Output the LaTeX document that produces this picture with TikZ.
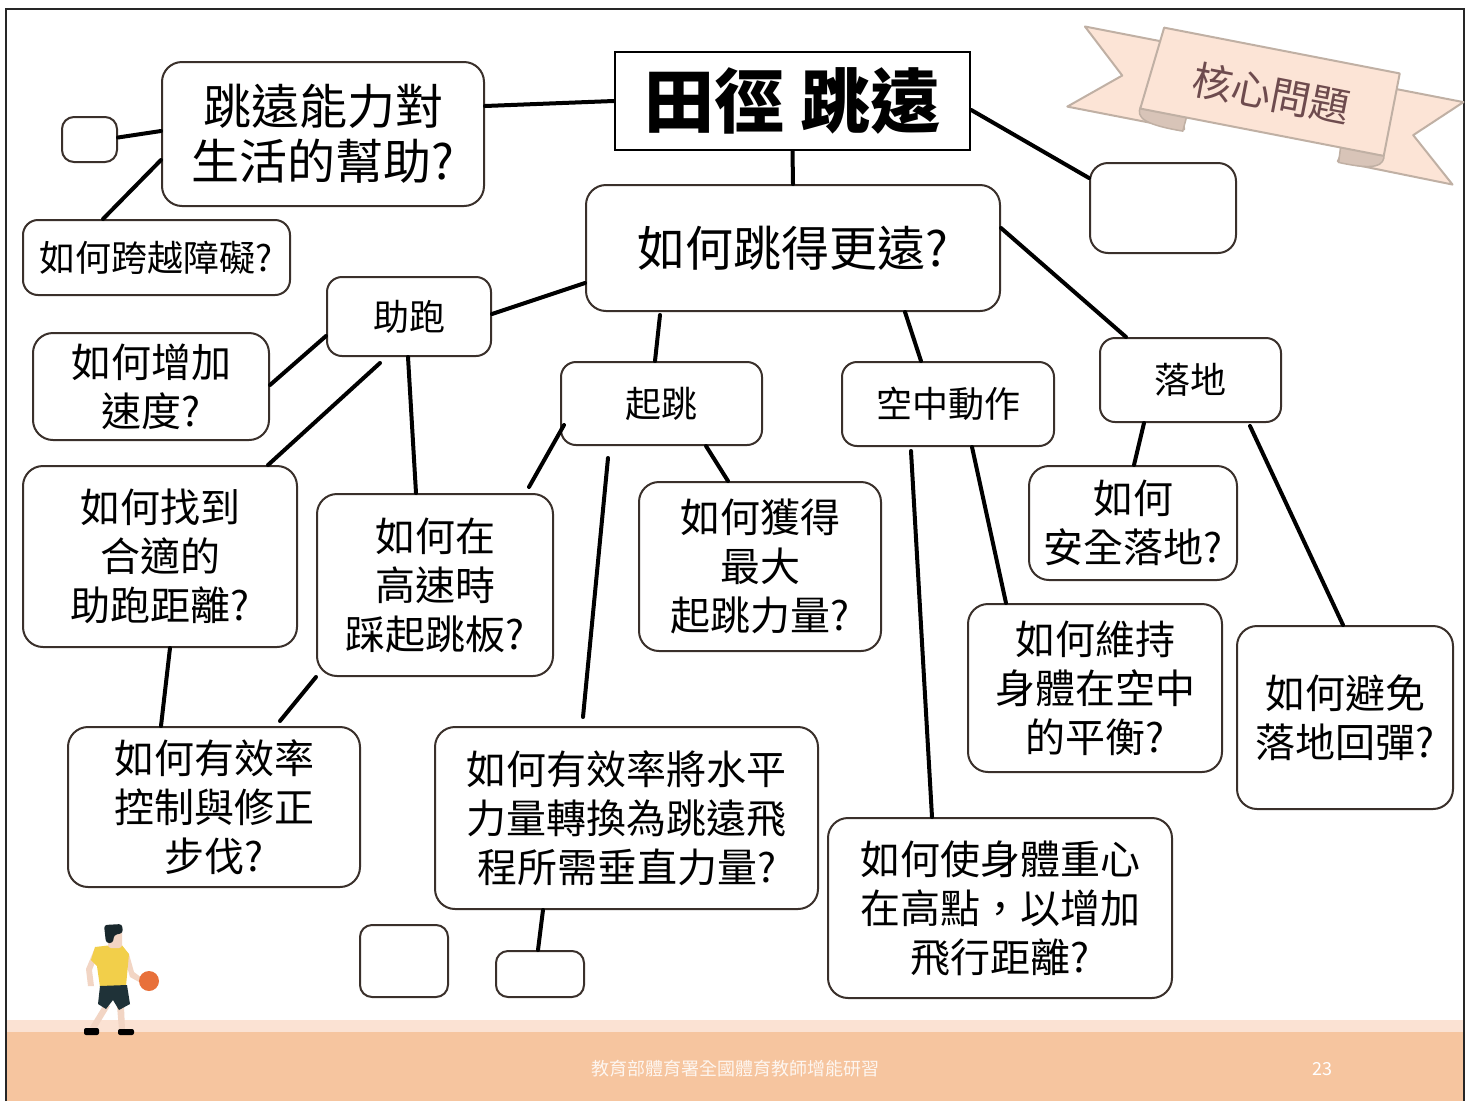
\documentclass[tikz,border=0pt]{standalone}
\usepackage{fontspec}
\setmainfont{Noto Sans CJK TC}
\definecolor{boxline}{HTML}{3A302B}
\definecolor{ribbonfill}{HTML}{FCE4D6}
\definecolor{ribbondraw}{HTML}{C0B0A4}
\definecolor{ribbonfold}{HTML}{D8C4B8}
\definecolor{ribbontext}{HTML}{6E4B4E}
\definecolor{footlight}{HTML}{FBE2D3}
\definecolor{footmain}{HTML}{F6C59F}
\definecolor{shirt}{HTML}{F2CF4A}
\definecolor{shorts}{HTML}{1F3238}
\definecolor{skin}{HTML}{F2D5C4}
\definecolor{ball}{HTML}{E8703A}
\tikzset{
  qbox/.style={draw=boxline, line width=2pt, rounded corners=20pt, fill=white,
    align=center, inner sep=0pt},
  empty/.style={qbox, rounded corners=12pt},
  link/.style={line width=4pt, line cap=round},
  ribbon/.style={draw=ribbondraw, line width=2pt, fill=ribbonfill, line join=round},
  fold/.style={draw=ribbondraw, line width=1.5pt, fill=ribbonfold},
  txtL/.style={font=\fontsize{48}{55}\selectfont},
  txtM/.style={font=\fontsize{40}{49}\selectfont},
  txtS/.style={font=\fontsize{36}{43}\selectfont},
}
\begin{document}
\begin{tikzpicture}[x=1pt, y=-1pt]
  \useasboundingbox[fill=white] (0,0) rectangle (1472,1101);
  % footer bands
  \fill[footlight] (6,1020) rectangle (1464,1032);
  \fill[footmain] (6,1032) rectangle (1464,1101);
  \node[text=white, opacity=0.85, font=\fontsize{18}{20}\selectfont] (foot) at (735,1069) {教育部體育署全國體育教師增能研習};
  \node[text=white, font=\fontsize{18}{20}\selectfont] (page) at (1322,1069) {23};
  % frame
  \draw[line width=2pt, black!85] (6,1101) -- (6,9) -- (1464,9) -- (1464,1101);

  % ribbon
  \begin{scope}[shift={(1270,91)}, rotate=-11]
    \draw[ribbon] (-194,-28) -- (-100,-28) -- (-77,54) -- (-196,54) -- (-148,13) -- cycle;
    \draw[ribbon] (192,-26) -- (100,-26) -- (80,56) -- (197,57) -- (149,16) -- cycle;
    \draw[fold] (-124,40) .. controls (-127,52) and (-116,57) .. (-78,56) -- (-77,42) -- cycle;
    \draw[fold] (124,40) .. controls (127,52) and (118,58) .. (81,57) -- (80,42) -- cycle;
    \draw[ribbon] (-116,-42) -- (124,-42) -- (124,42) -- (-124,42) -- cycle;
    \node[text=ribbontext, rotate=-11, font=\fontsize{40}{44}\selectfont] (core) at (2,2) {核心問題};
  \end{scope}

  % boxes
  \node[draw=black, line width=2.5pt, minimum width=355pt, minimum height=98pt,
    font=\fontsize{70}{72}\selectfont\bfseries] (title) at (792.5,101) {田徑 跳遠};
  \node[qbox, txtL, minimum width=322pt, minimum height=144pt] (life) at (323,134) {跳遠能力對\\生活的幫助?};
  \node[empty, minimum width=55pt, minimum height=45pt] (e1) at (89.5,139.5) {};
  \node[qbox, txtS, rounded corners=15pt, minimum width=267pt, minimum height=75pt] (hurdle) at (156.5,257.5) {如何跨越障礙?};
  \node[qbox, txtL, minimum width=414pt, minimum height=126pt] (farther) at (793,248) {如何跳得更遠?};
  \node[empty, rounded corners=18pt, minimum width=146pt, minimum height=90pt] (e2) at (1163,208) {};
  \node[qbox, txtS, rounded corners=15pt, minimum width=164pt, minimum height=79pt] (run) at (409,316.5) {助跑};
  \node[qbox, txtM, minimum width=236pt, minimum height=107pt] (speed) at (151,386.5) {如何增加\\速度?};
  \node[qbox, txtS, rounded corners=15pt, minimum width=201pt, minimum height=83pt] (takeoff) at (661.5,403.5) {起跳};
  \node[qbox, txtS, rounded corners=15pt, minimum width=212pt, minimum height=84pt] (air) at (948,404) {空中動作};
  \node[qbox, txtS, rounded corners=15pt, minimum width=181pt, minimum height=84pt] (land) at (1190.5,380) {落地};
  \node[qbox, txtM, minimum width=274pt, minimum height=181pt] (distance) at (160,556.5) {如何找到\\合適的\\助跑距離?};
  \node[qbox, txtM, minimum width=236pt, minimum height=182pt] (board) at (435,585) {如何在\\高速時\\踩起跳板?};
  \node[qbox, txtM, minimum width=242pt, minimum height=169pt] (power) at (760,566.5) {如何獲得\\最大\\起跳力量?};
  \node[qbox, txtM, minimum width=208pt, minimum height=114pt] (safe) at (1133,523) {如何\\安全落地?};
  \node[qbox, txtM, minimum width=254pt, minimum height=168pt] (balance) at (1095,688) {如何維持\\身體在空中\\的平衡?};
  \node[qbox, txtM, minimum width=216pt, minimum height=183pt] (rebound) at (1345,717.5) {如何避免\\落地回彈?};
  \node[qbox, txtM, minimum width=292pt, minimum height=160pt] (pace) at (214,807) {如何有效率\\控制與修正\\步伐?};
  \node[qbox, txtM, minimum width=383pt, minimum height=182pt] (convert) at (626.5,818) {如何有效率將水平\\力量轉換為跳遠飛\\程所需垂直力量?};
  \node[qbox, txtM, minimum width=344pt, minimum height=180pt] (height) at (1000,908) {如何使身體重心\\在高點，以增加\\飛行距離?};
  \node[empty, minimum width=88pt, minimum height=72pt] (e3) at (404,961) {};
  \node[empty, minimum width=88pt, minimum height=46pt] (e4) at (540,974) {};

  % connectors
  \draw[link] (title.west) -- ([yshift=28pt]life.east);
  \draw[link] ([yshift=-9pt]title.east) -- ([yshift=30pt]e2.west);
  \draw[link] (title.south) -- (farther.north);
  \draw[link] ([yshift=3pt]life.west) -- ([yshift=2pt]e1.east);
  \draw[link] ([yshift=-26pt]life.west) -- ([xshift=-53.5pt]hurdle.north);
  \draw[link] ([yshift=-35pt]farther.west) -- ([yshift=2.5pt]run.east);
  \draw[link] ([xshift=-133pt,yshift=-3pt]farther.south) -- ([xshift=-6.5pt]takeoff.north);
  \draw[link] ([xshift=112pt]farther.south) -- ([xshift=-27pt]air.north);
  \draw[link] ([yshift=20pt]farther.east) -- ([xshift=-64.5pt]land.north);
  \draw[link] ([yshift=-19.5pt]run.west) -- ([yshift=1.5pt]speed.east);
  \draw[link] ([xshift=-29pt,yshift=-6pt]run.south) -- ([xshift=108pt]distance.north);
  \draw[link] ([xshift=-1pt]run.south) -- ([xshift=-19pt]board.north);
  \draw[link] ([xshift=10pt]distance.south) -- ([xshift=-53pt]pace.north);
  \draw[link] (board.south west) -- ([xshift=66pt,yshift=5pt]pace.north);
  \draw[link] ([xshift=4pt,yshift=-21.5pt]takeoff.west) -- ([xshift=-25pt,yshift=6pt]board.north east);
  \draw[link] ([xshift=-53.5pt,yshift=-12pt]takeoff.south) -- ([xshift=-43.5pt,yshift=9pt]convert.north);
  \draw[link] ([xshift=44.5pt]takeoff.south) -- ([xshift=-32pt]power.north);
  \draw[link] ([xshift=-37pt,yshift=-4pt]air.south) -- ([xshift=-68pt]height.north);
  \draw[link] ([xshift=24pt]air.south) -- ([xshift=-89pt]balance.north);
  \draw[link] ([xshift=-46.5pt]land.south) -- ([xshift=1pt]safe.north);
  \draw[link] ([xshift=59.5pt,yshift=-3pt]land.south) -- ([xshift=-2pt]rebound.north);
  \draw[link] ([xshift=-83.5pt]convert.south) -- ([xshift=-2pt]e4.north);

  % player with ball
  \fill[skin] (104,1004) -- (110,1006) -- (96,1029) -- (90,1027) -- cycle;
  \fill[skin] (117,1006) -- (124,1006) -- (125,1030) -- (119,1030) -- cycle;
  \fill[black, rounded corners=2pt] (84,1028) rectangle (99,1035);
  \fill[black, rounded corners=2pt] (118,1029) rectangle (134,1035);
  \fill[skin] (94,950) -- (99,952) -- (92,970) -- (94,986) -- (88,986) -- (86,969) -- cycle;
  \fill[skin] (124,956) -- (129,954) -- (134,972) -- (142,978) -- (139,982) -- (130,977) -- cycle;
  \fill[shirt] (95,947) -- (121,944) -- (129,954) -- (126,986) -- (100,987) -- (97,966) -- (91,960) -- cycle;
  \fill[shorts] (100,986) -- (127,985) -- (130,1004) -- (119,1010) -- (113,1000) -- (106,1009) -- (98,1004) -- cycle;
  \fill[skin, rounded corners=3pt] (108,930) rectangle (122,948);
  \fill[shorts!80!black, rounded corners=3pt] (104,925) -- (122,924) -- (123,933) -- (114,935) -- (113,943) -- (106,943) -- cycle;
  \fill[ball] (149,981) circle (10);
\end{tikzpicture}
\end{document}
